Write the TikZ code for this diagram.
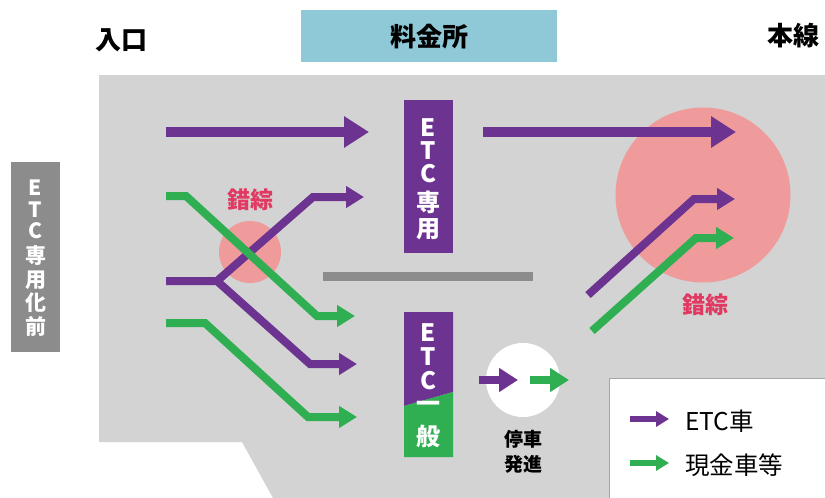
\documentclass[tikz,border=0pt]{standalone}
\usepackage{fontspec}
\setmainfont{Noto Sans CJK JP}
\usetikzlibrary{arrows.meta}
\definecolor{pur}{HTML}{6C3390}
\definecolor{grn}{HTML}{2FAF52}
\definecolor{bgray}{HTML}{D3D3D3}
\definecolor{pinkc}{HTML}{F09B9B}
\definecolor{bluec}{HTML}{8FC9D7}
\definecolor{dgray}{HTML}{8C8C8C}
\definecolor{crim}{HTML}{E03A63}
\begin{document}
\begin{tikzpicture}[x=1pt,y=-1pt,
  bigarrow/.style={pur, line width=10pt, -{Triangle[length=25pt,width=30pt]}},
  lane/.style={line width=8pt, line join=miter, -{Triangle[length=18pt,width=21pt]}},
  midarrow/.style={line width=8pt, -{Triangle[length=19pt,width=23pt]}},
  legarrow/.style={line width=6pt, -{Triangle[length=13pt,width=15pt]}},
  vtxt/.style={text=white, inner sep=0pt, font=\bfseries\fontsize{24}{24}\selectfont},
  vtxts/.style={text=white, inner sep=0pt, font=\bfseries\fontsize{21}{21}\selectfont},
  head/.style={inner sep=0pt, font=\bfseries\fontsize{26}{26}\selectfont},
  legtxt/.style={anchor=west, inner sep=0pt, font=\fontsize{24.5}{24.5}\selectfont},
  crlabel/.style={text=crim, inner sep=0pt, font=\bfseries\fontsize{23}{23}\selectfont}]
\useasboundingbox (0,0) rectangle (825,498);
\fill[white] (0,0) rectangle (825,498);
% gray area
\fill[bgray] (99,75) -- (825,75) -- (825,498) -- (273,498) -- (242,442) -- (99,442) -- cycle;
% headers
\fill[bluec] (301,10) rectangle (557,62);
\node[head] (ryokin) at (429,37) {料金所};
\node[head] (iriguchi) at (121,40.5) {入口};
\node[head] (honsen) at (793,36) {本線};
% left gray box
\fill[dgray] (11,162) rectangle (60,352);
\node[vtxts] (l1) at (35.5,188) {E};
\node[vtxts] (l2) at (35.5,210) {T};
\node[vtxts] (l3) at (35.5,231) {C};
\node[vtxts] (l4) at (35.5,256) {専};
\node[vtxts] (l5) at (35.5,280) {用};
\node[vtxts] (l6) at (35.5,303) {化};
\node[vtxts] (l7) at (35.5,326) {前};
% pink circles
\fill[pinkc] (250,252) circle (31);
\fill[pinkc] (703,195) circle (87.5);
\node[crlabel] (sak1) at (250,200) {錯綜};
\node[crlabel] (sak2) at (705,305) {錯綜};
% divider
\fill[dgray] (323,272) rectangle (533,281);
% ETC only booth
\fill[pur] (404,100) rectangle (453,253);
\node[vtxt] (a1) at (428.5,128) {E};
\node[vtxt] (a2) at (428.5,151) {T};
\node[vtxt] (a3) at (428.5,174) {C};
\node[vtxt] (a4) at (428.5,202) {専};
\node[vtxt] (a5) at (428.5,229) {用};
% ETC/general booth
\fill[pur] (404,312) -- (453,312) -- (453,392) -- (404,406) -- cycle;
\fill[grn] (404,406) -- (453,392) -- (453,457) -- (404,457) -- cycle;
\node[vtxt] (b1) at (428.5,333) {E};
\node[vtxt] (b2) at (428.5,357) {T};
\node[vtxt] (b3) at (428.5,381) {C};
\node[vtxt] (b4) at (428.5,407) {一};
\node[vtxt] (b5) at (428.5,436) {般};
% top arrows
\coordinate (t1s) at (166,132); \coordinate (t1e) at (369,132);
\coordinate (t2s) at (483,132); \coordinate (t2e) at (736,132);
\draw[bigarrow] (t1s) -- (t1e);
\draw[bigarrow] (t2s) -- (t2e);
% purple lanes (left)
\coordinate (p0) at (166,281); \coordinate (pj) at (217,281);
\coordinate (pu) at (313,197); \coordinate (pue) at (364,197);
\coordinate (pd) at (310,364); \coordinate (pde) at (357,364);
\draw[lane, pur] (p0) -- (pj) -- (pu) -- (pue);
\draw[lane, pur] (pj) -- (pd) -- (pde);
% green lanes (left)
\coordinate (g0) at (166,196); \coordinate (g1) at (186,196);
\coordinate (g2) at (317,316); \coordinate (g3) at (355,316);
\draw[lane, grn] (g0) -- (g1) -- (g2) -- (g3);
\coordinate (h0) at (166,323); \coordinate (h1) at (205,323);
\coordinate (h2) at (308,417); \coordinate (h3) at (357,417);
\draw[lane, grn] (h0) -- (h1) -- (h2) -- (h3);
% right merging lanes
\coordinate (rp0) at (588,295); \coordinate (rp1) at (694,199); \coordinate (rp2) at (735,199);
\draw[lane, pur] (rp0) -- (rp1) -- (rp2);
\coordinate (rg0) at (592,331); \coordinate (rg1) at (696,238); \coordinate (rg2) at (734,238);
\draw[lane, grn] (rg0) -- (rg1) -- (rg2);
% stop and go circle
\fill[white] (523,380) circle (37);
\coordinate (s1) at (479,380); \coordinate (s2) at (518,380);
\coordinate (s3) at (530,380); \coordinate (s4) at (569,380);
\draw[midarrow, pur] (s1) -- (s2);
\draw[midarrow, grn] (s3) -- (s4);
\node[inner sep=0pt, font=\bfseries\fontsize{19}{19}\selectfont] (teisha) at (523,439) {停車};
\node[inner sep=0pt, font=\bfseries\fontsize{19}{19}\selectfont] (hasshin) at (523,464) {発進};
% legend
\draw[draw=gray!70, fill=white, line width=1pt] (609,378) rectangle (830,505);
\coordinate (la1) at (630,419); \coordinate (la2) at (669,419);
\coordinate (lb1) at (630,463); \coordinate (lb2) at (669,463);
\draw[legarrow, pur] (la1) -- (la2);
\draw[legarrow, grn] (lb1) -- (lb2);
\node[legtxt] (letc) at (685,421) {ETC車};
\node[legtxt] (lcash) at (685,465) {現金車等};
\end{tikzpicture}
\end{document}
